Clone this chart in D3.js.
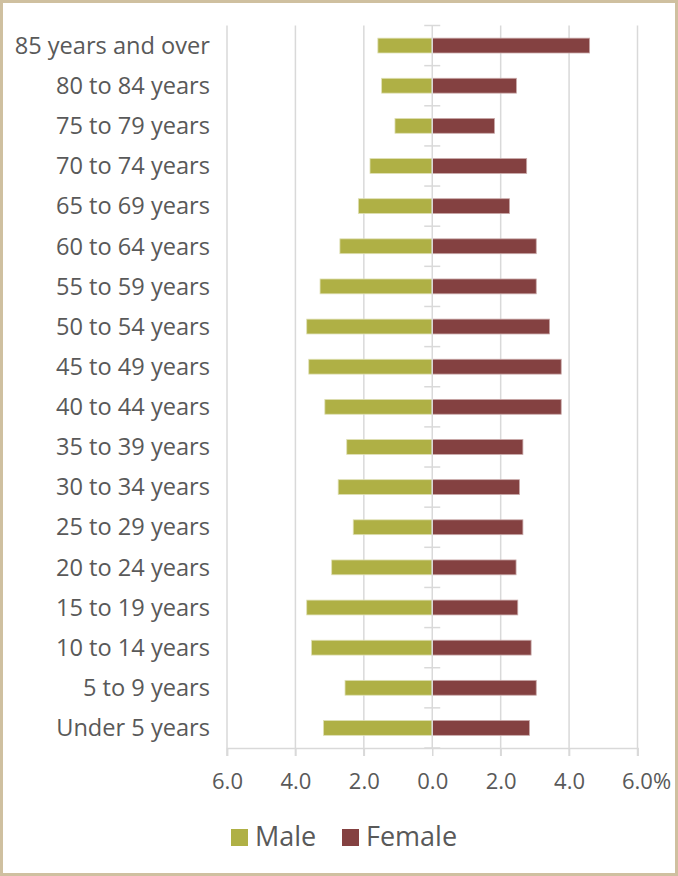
<!DOCTYPE html>
<html>
<head>
<meta charset="utf-8">
<script src="https://cdn.jsdelivr.net/npm/d3@7"></script>
<style>
  body { margin: 0; background: #fff; }
  svg text { font-family: "Open Sans", "Noto Sans", sans-serif; fill: #595959; }
</style>
</head>
<body>
<div id="chart"></div>
<script>
// age groups, top to bottom
const ageGroups = [
  "85 years and over", "80 to 84 years", "75 to 79 years", "70 to 74 years",
  "65 to 69 years", "60 to 64 years", "55 to 59 years", "50 to 54 years",
  "45 to 49 years", "40 to 44 years", "35 to 39 years", "30 to 34 years",
  "25 to 29 years", "20 to 24 years", "15 to 19 years", "10 to 14 years",
  "5 to 9 years", "Under 5 years"
];

// percent of population
const maleValues = [1.59, 1.48, 1.09, 1.82, 2.16, 2.70, 3.28, 3.67, 3.61, 3.14,
                    2.50, 2.75, 2.31, 2.94, 3.67, 3.53, 2.55, 3.18];
const femaleValues = [4.60, 2.46, 1.82, 2.76, 2.26, 3.04, 3.04, 3.43, 3.77, 3.77,
                      2.65, 2.55, 2.65, 2.45, 2.50, 2.89, 3.04, 2.84];

const tickValues = [-6, -4, -2, 0, 2, 4, 6];
const seriesNames = ["Male", "Female"];
const seriesColors = ["#afb045", "#844141"];

const width = 678, height = 876;
const plotLeft = 227, plotRight = 637.5, plotTop = 25.5, plotBottom = 748;

const svg = d3.select("#chart").append("svg")
  .attr("width", width)
  .attr("height", height);

// frame
svg.append("rect")
  .attr("x", 1.5).attr("y", 1.5)
  .attr("width", width - 3).attr("height", height - 3)
  .attr("fill", "#fff")
  .attr("stroke", "#cfc0a0")
  .attr("stroke-width", 3);

const x = d3.scaleLinear().domain([-6, 6]).range([plotLeft, plotRight]);
const y = d3.scaleBand().domain(ageGroups).range([plotTop, plotBottom]).paddingInner(0.63).paddingOuter(0.315);

// gridlines
svg.append("g")
  .selectAll("line")
  .data(tickValues.filter(d => d !== 0))
  .enter()
  .append("line")
  .attr("x1", d => x(d)).attr("x2", d => x(d))
  .attr("y1", plotTop).attr("y2", plotBottom + 8)
  .attr("stroke", "#d9d9d9")
  .attr("stroke-width", 1.5);

// bottom axis
const xAxis = svg.append("g")
  .attr("transform", `translate(0,${plotBottom})`)
  .call(d3.axisBottom(x)
    .tickValues(tickValues)
    .tickSize(8)
    .tickFormat(d => Math.abs(d).toFixed(1) + (d === 6 ? "%" : "")));

xAxis.select(".domain").attr("stroke", "#d9d9d9").attr("stroke-width", 1.5);
xAxis.selectAll(".tick line").attr("stroke", "#d9d9d9").attr("stroke-width", 1.5);
xAxis.selectAll(".tick text")
  .attr("y", 25)
  .style("font-size", "22px")
  .attr("fill", "#595959");
xAxis.selectAll(".tick text").filter(d => d === 6)
  .attr("text-anchor", "start")
  .attr("x", -16);

// bars
const rows = ageGroups.map((g, i) => ({ group: g, male: maleValues[i], female: femaleValues[i] }));

svg.append("g")
  .selectAll("rect")
  .data(rows)
  .enter()
  .append("rect")
  .attr("x", d => x(-d.male))
  .attr("y", d => y(d.group))
  .attr("width", d => x(0) - x(-d.male))
  .attr("height", y.bandwidth())
  .attr("fill", seriesColors[0])
  .attr("stroke", "#dfe0b5")
  .attr("stroke-width", 0.8);

svg.append("g")
  .selectAll("rect")
  .data(rows)
  .enter()
  .append("rect")
  .attr("x", x(0))
  .attr("y", d => y(d.group))
  .attr("width", d => x(d.female) - x(0))
  .attr("height", y.bandwidth())
  .attr("fill", seriesColors[1])
  .attr("stroke", "#c9a9a9")
  .attr("stroke-width", 0.8);

// center axis with category ticks
svg.append("line")
  .attr("x1", x(0)).attr("x2", x(0))
  .attr("y1", plotTop).attr("y2", plotBottom)
  .attr("stroke", "#d9d9d9")
  .attr("stroke-width", 1.5);

const step = y.step();
svg.append("g")
  .selectAll("line")
  .data(d3.range(ageGroups.length + 1))
  .enter()
  .append("line")
  .attr("x1", x(0) - 8).attr("x2", x(0) + 8)
  .attr("y1", i => plotTop + i * step).attr("y2", i => plotTop + i * step)
  .attr("stroke", "#d9d9d9")
  .attr("stroke-width", 1.5);

// category labels
svg.append("g")
  .selectAll("text")
  .data(ageGroups)
  .enter()
  .append("text")
  .attr("x", 210)
  .attr("y", d => y(d) + y.bandwidth() / 2)
  .attr("dy", "0.35em")
  .attr("text-anchor", "end")
  .style("font-size", "23.6px")
  .text(d => d);

// legend
const legend = svg.append("g")
  .selectAll("g")
  .data(seriesNames)
  .enter()
  .append("g")
  .attr("transform", (d, i) => `translate(${i === 0 ? 231 : 342},829)`);

legend.append("rect")
  .attr("width", 17).attr("height", 17)
  .attr("fill", (d, i) => seriesColors[i]);

legend.append("text")
  .attr("x", 24)
  .attr("y", 17)
  .style("font-size", "27px")
  .text(d => d);
</script>
</body>
</html>
